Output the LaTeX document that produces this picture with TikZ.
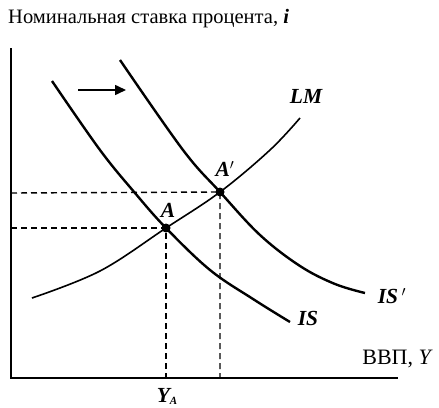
\documentclass[tikz,border=0pt]{standalone}
\usepackage{fontspec}
\setmainfont{Liberation Serif}
\usetikzlibrary{arrows.meta}
\begin{document}
\begin{tikzpicture}[x=1pt,y=-1pt,
  curve/.style={line width=2.4pt},
  lmcurve/.style={line width=1.6pt},
  axis/.style={line width=1.8pt},
  guide/.style={line width=1.4pt, dash pattern=on 6pt off 4pt},
  lbl/.style={font=\fontsize{21.5}{24}\selectfont\bfseries\itshape, inner sep=0pt},
  dot/.style={circle, fill=black, inner sep=0pt, minimum size=9pt}]
\useasboundingbox (0,0) rectangle (439,407);
% axes
\coordinate (org) at (11,378);
\coordinate (ytop) at (11,48);
\coordinate (xend) at (398,378);
\draw[axis] (ytop) -- (org) -- (xend);
% title
\node[anchor=base west, inner sep=0pt, font=\fontsize{20.5}{24}\selectfont] (title) at (8,23) {Номинальная ставка процента, \textbf{\textit{i}}};
\node[anchor=base east, inner sep=0pt, font=\fontsize{22}{24}\selectfont] (xlab) at (433,364) {ВВП, \textit{Y}};
% equilibrium points
\node[dot] (A) at (166,228) {};
\node[dot] (Ap) at (220,192) {};
% guides
\coordinate (yA) at (11,228);
\coordinate (yAp) at (11,193);
\coordinate (xA) at (166,378);
\coordinate (xAp) at (220,378);
\draw[guide] (yA) -- (A.center) -- (xA);
\draw[guide] (yAp) -- (Ap.center) -- (xAp);
% curves
\draw[lmcurve] plot[smooth, tension=0.6] coordinates {(32,298) (100,271) (166,228) (220,192) (270,150) (300,118)};
\draw[curve] plot[smooth, tension=0.6] coordinates {(52,81) (100,150) (135,193) (166,228) (210,270) (253,299) (290,322)};
\draw[curve] plot[smooth, tension=0.6] coordinates {(120,60) (183,150) (220,192) (260,235) (300,266) (335,284) (365,293)};
% shift arrow
\coordinate (arrS) at (78,90);
\coordinate (arrE) at (126,90);
\draw[line width=1.6pt, -{Triangle[length=11pt,width=10pt]}] (arrS) -- (arrE);
% labels
\node[lbl] (lLM) at (306,96) {LM};
\node[lbl] (lIS) at (308,318) {IS};
\node[lbl] (lISp) at (392,296) {IS\,$'$};
\node[lbl] (lA) at (168,210) {A};
\node[lbl] (lAp) at (225,169) {A$'$};
\node[lbl, anchor=base] (lYA) at (167,402) {Y\raisebox{-2.5pt}{\fontsize{11}{12}\selectfont A}};
\end{tikzpicture}
\end{document}
